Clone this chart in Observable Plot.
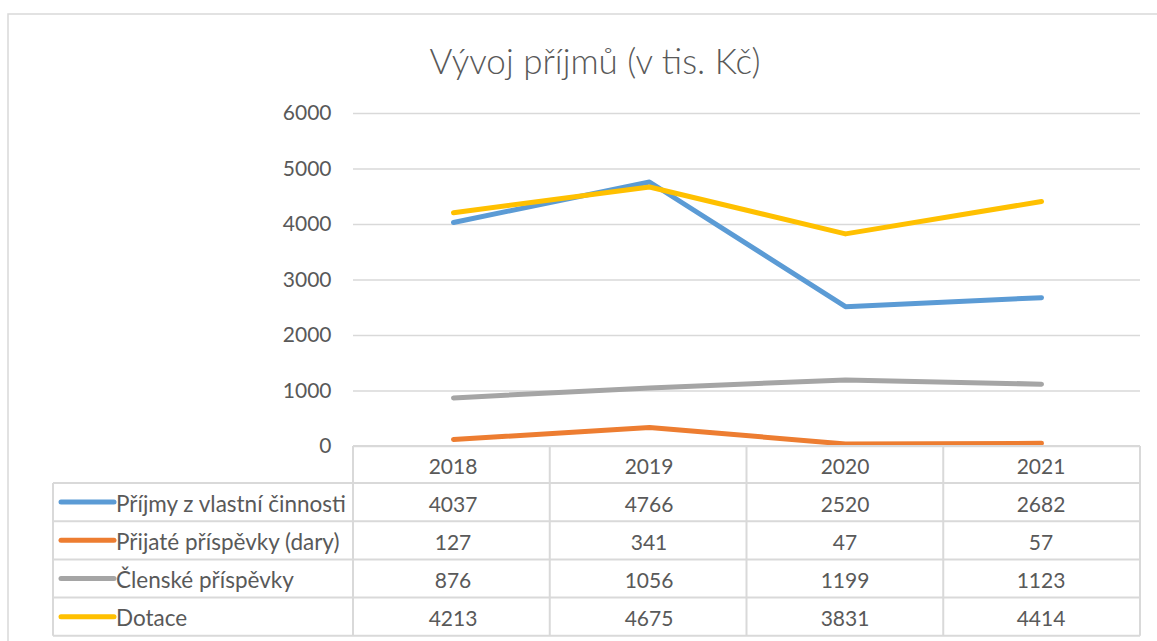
<!DOCTYPE html>
<html><head><meta charset="utf-8">
<script src="https://cdn.jsdelivr.net/npm/d3@7"></script>
<script src="https://cdn.jsdelivr.net/npm/@observablehq/plot@0.6"></script>
<style>
html,body{margin:0;padding:0;background:#fff;overflow:hidden}
#chart svg{display:block}
</style></head>
<body><div id="chart"></div>
<script>
const title = "Vývoj příjmů (v tis. Kč)";
const years = ["2018", "2019", "2020", "2021"];
const seriesNames = ["Příjmy z vlastní činnosti", "Přijaté příspěvky (dary)", "Členské příspěvky", "Dotace"];
const prijmyZVlastniCinnosti = [4037, 4766, 2520, 2682];
const prijatePrispevky = [127, 341, 47, 57];
const clenskePrispevky = [876, 1056, 1199, 1123];
const dotace = [4213, 4675, 3831, 4414];
const seriesColors = ["#5B9BD5", "#ED7D31", "#A5A5A5", "#FFC000"];
const yTicks = [0, 1000, 2000, 3000, 4000, 5000, 6000];

const seriesValues = [prijmyZVlastniCinnosti, prijatePrispevky, clenskePrispevky, dotace];
const data = seriesNames.flatMap((s, i) => years.map((y, j) => ({series: s, year: y, value: seriesValues[i][j]})));

const FONT = "Lato, 'Open Sans', sans-serif";
const TEXT = "#595959";
const GRID = "#d9d9d9";

const chart = Plot.plot({
  width: 1157,
  height: 641,
  marginLeft: 353,
  marginRight: 17,
  marginTop: 113,
  marginBottom: 195,
  style: {fontFamily: FONT, fontSize: "21px", color: TEXT, background: "#fff", overflow: "visible"},
  x: {type: "point", domain: years, padding: 0.5, axis: null},
  y: {domain: [0, 6000], ticks: yTicks, label: null},
  color: {domain: seriesNames, range: seriesColors},
  marks: [
    Plot.gridY(yTicks, {stroke: GRID, strokeOpacity: 1, strokeWidth: 1.5}),
    Plot.axisY(yTicks, {tickSize: 0, tickPadding: 22, label: null, fill: TEXT, fontSize: 21, tickFormat: d => String(d)}),
    Plot.line(data, {x: "year", y: "value", z: "series", stroke: "series", strokeWidth: 5, strokeLinecap: "round", strokeLinejoin: "round"})
  ]
});

document.getElementById("chart").appendChild(chart);

// Chart frame, title and data table drawn with d3, positioned via Plot's scales
const svg = d3.select(chart);
const xs = chart.scale("x");
const ys = chart.scale("y");
const [r0, r1] = xs.range;
const n = years.length;
const colW = (r1 - r0) / n;
const yTop = ys.apply(0);
const headerH = 37;
const rowH = 38.2;
const legendLeft = 53;

svg.insert("rect", ":first-child")
  .attr("x", 8).attr("y", 14).attr("width", 1200).attr("height", 700)
  .attr("fill", "#fff").attr("stroke", GRID).attr("stroke-width", 1.5);

svg.append("text")
  .attr("x", 595).attr("y", 60)
  .attr("text-anchor", "middle").attr("dominant-baseline", "central")
  .attr("fill", TEXT).attr("font-size", 35).attr("font-weight", 300)
  .attr("font-family", FONT)
  .text(title);

const g = svg.append("g").attr("font-family", FONT).attr("font-size", 21).attr("fill", TEXT);
const rowsTop = yTop + headerH;
const bottom = rowsTop + rowH * seriesNames.length;

// horizontal lines
g.append("line").attr("x1", r0).attr("x2", r1).attr("y1", yTop).attr("y2", yTop).attr("stroke", GRID).attr("stroke-width", 2);
for (let i = 0; i <= seriesNames.length; i++) {
  const yy = rowsTop + i * rowH;
  g.append("line").attr("x1", legendLeft).attr("x2", r1).attr("y1", yy).attr("y2", yy).attr("stroke", GRID).attr("stroke-width", 2);
}
// vertical lines
g.append("line").attr("x1", legendLeft).attr("x2", legendLeft).attr("y1", rowsTop).attr("y2", bottom).attr("stroke", GRID).attr("stroke-width", 2);
for (let j = 0; j <= n; j++) {
  const xx = r0 + j * colW;
  g.append("line").attr("x1", xx).attr("x2", xx).attr("y1", yTop).attr("y2", bottom).attr("stroke", GRID).attr("stroke-width", 2);
}
// header
years.forEach(y => {
  g.append("text").attr("x", xs.apply(y)).attr("y", yTop + headerH / 2 + 1)
    .attr("text-anchor", "middle").attr("dominant-baseline", "central").text(y);
});
// rows
seriesNames.forEach((s, i) => {
  const cy = rowsTop + i * rowH + rowH / 2;
  g.append("line").attr("x1", 61).attr("x2", 114).attr("y1", cy).attr("y2", cy)
    .attr("stroke", seriesColors[i]).attr("stroke-width", 5).attr("stroke-linecap", "round");
  g.append("text").attr("x", 116).attr("y", cy + 1).attr("text-anchor", "start")
    .attr("font-size", 22.5).attr("dominant-baseline", "central").text(s);
  years.forEach((y, j) => {
    g.append("text").attr("x", xs.apply(y)).attr("y", cy + 1)
      .attr("text-anchor", "middle").attr("dominant-baseline", "central").text(seriesValues[i][j]);
  });
});
</script>
</body></html>
